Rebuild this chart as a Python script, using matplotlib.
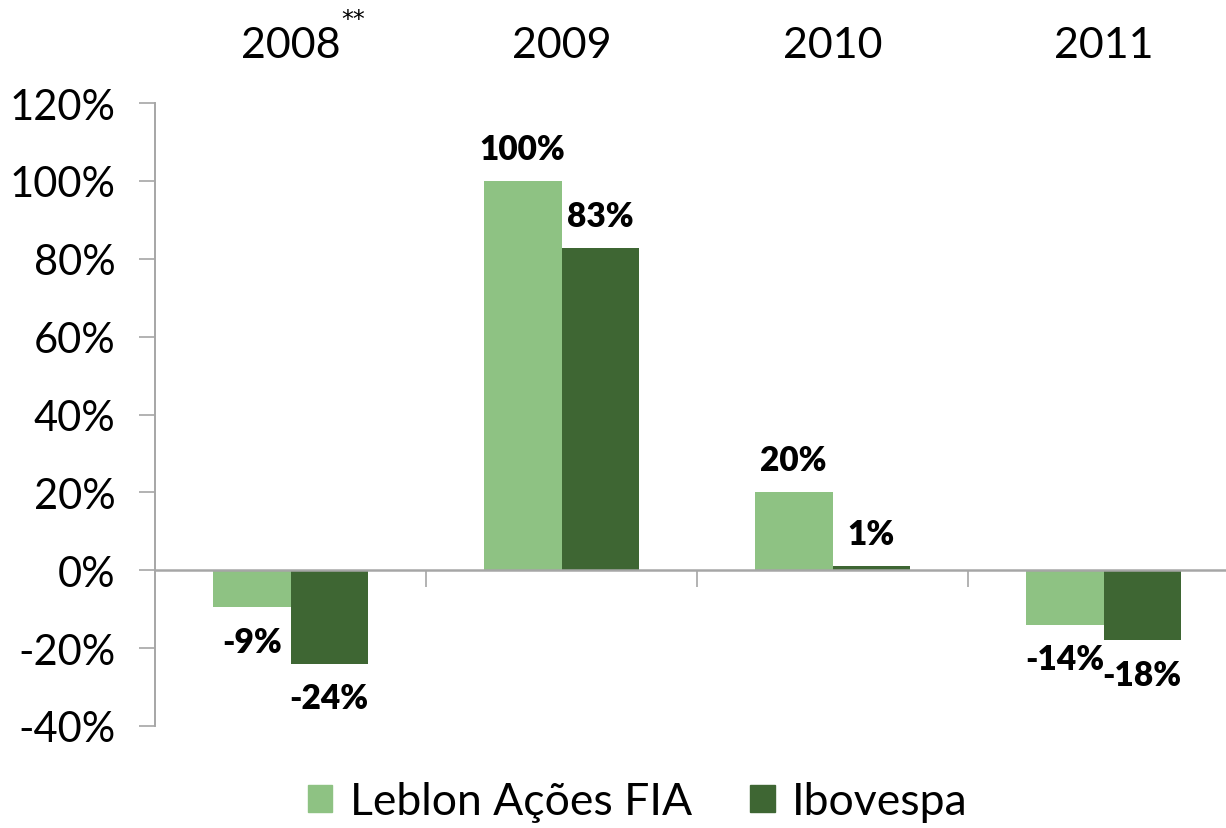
import matplotlib
matplotlib.use("Agg")
import matplotlib.pyplot as plt
import numpy as np
from matplotlib.patches import Patch

years = ["2008", "2009", "2010", "2011"]
series_names = ["Leblon Ações FIA", "Ibovespa"]
leblon = [-9.5, 100.0, 20.0, -14.0]
ibovespa = [-24.0, 82.7, 1.0, -18.0]
leblon_labels = ["-9%", "100%", "20%", "-14%"]
ibovespa_labels = ["-24%", "83%", "1%", "-18%"]
yticks = [-40, -20, 0, 20, 40, 60, 80, 100, 120]
ytick_labels = ["-40%", "-20%", "0%", "20%", "40%", "60%", "80%", "100%", "120%"]

c_light = "#8EC283"
c_dark = "#3E6633"
spine_c = "#A6A6A6"
FONT = ["Lato", "DejaVu Sans"]
plt.rcParams["font.family"] = FONT

W, H = 1226, 829
fig = plt.figure(figsize=(W / 100, H / 100), dpi=100)
left, right, top, bottom = 155, 1239, 104, 727
ax = fig.add_axes([left / W, 1 - bottom / H, (right - left) / W, (bottom - top) / H])

x = np.arange(len(years)) + 0.5
bw = 0.286
ax.bar(x - bw / 2, leblon, bw, color=c_light, zorder=2)
ax.bar(x + bw / 2, ibovespa, bw, color=c_dark, zorder=2)

def lab(xs, vals, texts):
    for xi, v, t in zip(xs, vals, texts):
        off = 23 if v >= 0 else -25
        ax.annotate(t, xy=(xi, v), xytext=(0, off), textcoords="offset points",
                    ha="center", va="center", fontsize=24, fontweight="heavy",
                    color="black", zorder=3)

lab(x - bw / 2, leblon, leblon_labels)
lab(x + bw / 2, ibovespa, ibovespa_labels)

ax.set_xlim(0, len(years))
ax.set_ylim(-40, 120)
ax.set_yticks(yticks)
ax.set_yticklabels(ytick_labels, fontsize=30)
ax.tick_params(axis="y", direction="out", length=11.5, width=1.2, color=spine_c, pad=17)

for s in ["top", "right"]:
    ax.spines[s].set_visible(False)
ax.spines["left"].set_color(spine_c)
ax.spines["left"].set_linewidth(1.4)
ax.spines["bottom"].set_position(("data", 0))
ax.spines["bottom"].set_color(spine_c)
ax.spines["bottom"].set_linewidth(1.8)
ax.set_xticks(np.arange(1, len(years) + 1))
ax.set_xticklabels([])
ax.tick_params(axis="x", direction="out", length=12, width=1.2, color=spine_c)

sec = ax.secondary_xaxis("top")
sec.set_xticks(x)
sec.set_xticklabels(years, fontsize=31)
sec.tick_params(length=0, pad=28)
sec.spines["top"].set_visible(False)

ax.annotate("**", xy=(x[0], 1), xycoords=("data", "axes fraction"),
            xytext=(63, 84), textcoords="offset pixels", ha="center", va="center",
            fontsize=17, family=["DejaVu Sans"])

handles = [Patch(color=c_light), Patch(color=c_dark)]
fig.legend(handles, series_names, loc="center", bbox_to_anchor=(638 / W, 1 - 803 / H),
           ncol=2, frameon=False, fontsize=32, handlelength=0.55, handleheight=0.55,
           handletextpad=0.4, columnspacing=1.3)

fig.savefig("out.png", dpi=100)
